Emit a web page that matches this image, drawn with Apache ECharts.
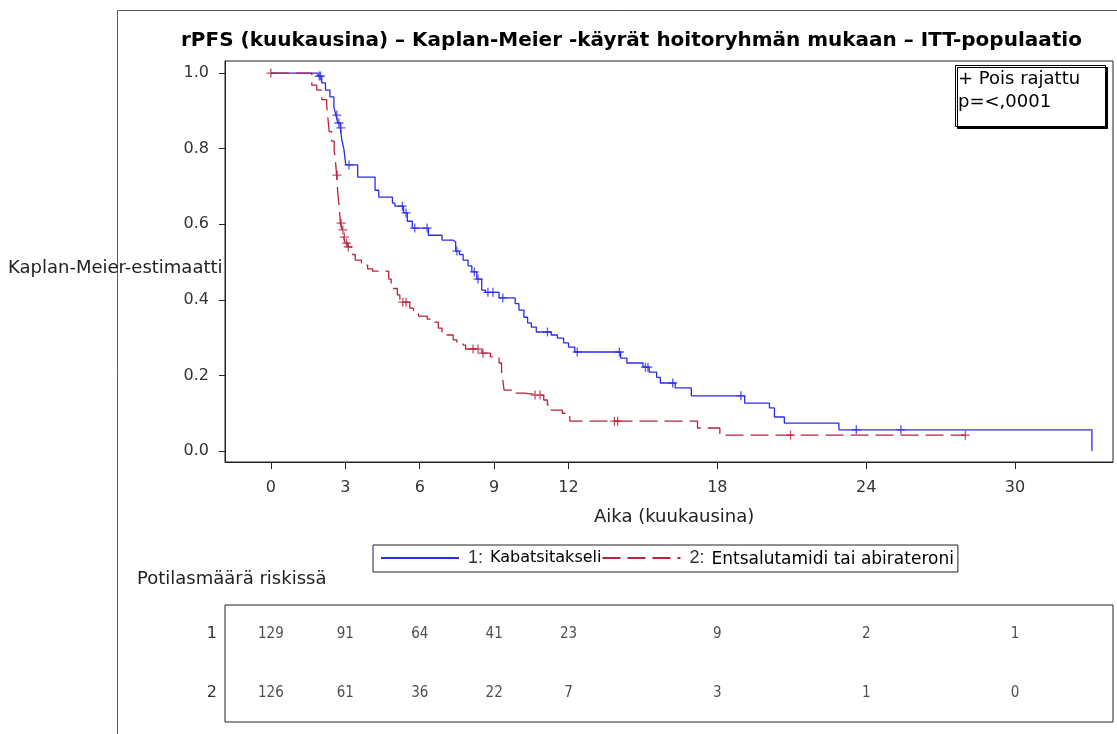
<!DOCTYPE html>
<html>
<head>
<meta charset="utf-8">
<script src="https://cdn.jsdelivr.net/npm/echarts@6/dist/echarts.min.js"></script>
<style>
  html, body { margin: 0; padding: 0; background: #fff; }
  #chart { width: 1117px; height: 734px; }
</style>
</head>
<body>
<div id="chart"></div>
<script>
// Kaplan-Meier steps (time in months, survival after the drop)
const kabTimes = [0, 1.9, 2.05, 2.2, 2.38, 2.54, 2.62, 2.7, 2.8, 2.86, 2.94, 3.02, 3.5, 4.2, 4.35, 4.9, 5.0, 5.35, 5.5, 5.7,
  6.35, 6.9, 7.35, 7.45, 7.6, 7.75, 7.95, 8.1, 8.3, 8.5, 8.65, 9.2, 9.85, 10.0, 10.2, 10.35, 10.5, 10.7, 11.3, 11.55,
  11.8, 12.0, 12.25, 14.1, 14.35, 15.0, 15.25, 15.55, 15.7, 16.3, 16.95, 19.1, 20.1, 20.3, 20.7, 22.9, 33.1]
const kabSurv = [1.0, 0.992, 0.974, 0.955, 0.937, 0.91, 0.889, 0.868, 0.855, 0.823, 0.8, 0.757, 0.725, 0.69, 0.672, 0.656, 0.648, 0.63, 0.608, 0.59,
  0.571, 0.558, 0.553, 0.529, 0.52, 0.505, 0.49, 0.474, 0.455, 0.426, 0.42, 0.405, 0.39, 0.373, 0.354, 0.339, 0.328, 0.315, 0.307, 0.299,
  0.286, 0.275, 0.262, 0.246, 0.233, 0.222, 0.209, 0.195, 0.18, 0.167, 0.146, 0.127, 0.114, 0.09, 0.074, 0.056, 0]
const kabCensored = [1.95, 2.0, 2.66, 2.74, 2.82, 3.15, 5.3, 5.45, 5.8, 6.3, 7.5, 8.2, 8.35, 8.75, 8.95, 9.35,
  11.15, 12.35, 14.05, 15.1, 15.2, 16.2, 18.95, 23.6, 25.4]

const entTimes = [0, 1.65, 1.85, 2.05, 2.25, 2.3, 2.35, 2.45, 2.55, 2.6, 2.65, 2.7, 2.75, 2.8, 2.87, 2.93, 3.0, 3.1, 3.25, 3.4,
  3.65, 3.9, 4.1, 4.75, 4.85, 5.1, 5.2, 5.3, 5.6, 5.75, 5.95, 6.3, 6.6, 6.75, 6.9, 7.35, 7.5, 7.75, 7.85, 8.5,
  8.85, 9.2, 9.3, 9.35, 9.4, 9.7, 10.2, 11.0, 11.15, 11.3, 11.75, 12.05, 17.2, 18.1, 28.0]
const entSurv = [1.0, 0.968, 0.955, 0.93, 0.915, 0.88, 0.845, 0.82, 0.796, 0.77, 0.73, 0.68, 0.65, 0.603, 0.585, 0.566, 0.55, 0.54, 0.52, 0.505,
  0.492, 0.482, 0.476, 0.455, 0.43, 0.413, 0.4, 0.394, 0.378, 0.365, 0.357, 0.349, 0.341, 0.325, 0.307, 0.294, 0.288, 0.28, 0.27, 0.259,
  0.249, 0.233, 0.21, 0.188, 0.161, 0.153, 0.148, 0.135, 0.122, 0.108, 0.1, 0.079, 0.061, 0.042, 0.042]
const entCensored = [0, 2.67, 2.83, 2.9, 2.96, 3.05, 3.12, 5.32, 5.45, 8.15, 8.35, 8.55, 10.65, 10.85, 13.85, 13.98, 20.95, 28.0]

const xTicks = [0, 3, 6, 9, 12, 18, 24, 30]
const yTicks = [0, 0.2, 0.4, 0.6, 0.8, 1.0]

// patients at risk
const riskRows = ['1', '2']
const riskTimes = [0, 3, 6, 9, 12, 18, 24, 30]
const riskArm1 = [129, 91, 64, 41, 23, 9, 2, 1]
const riskArm2 = [126, 61, 36, 22, 7, 3, 1, 0]

const armNames = ['Kabatsitakseli', 'Entsalutamidi tai abirateroni']

const BLUE = '#2b2bf0'
const RED = '#b8233a'
const FONT = "'DejaVu Sans', Verdana, sans-serif"
const NARROW = "'Liberation Sans Narrow', 'Arial Narrow', 'DejaVu Sans Condensed', sans-serif"
const PLUS = 'path://M5,0V10M0,5H10'

function survAt(times, surv, t) {
  let s = surv[0]
  for (let i = 0; i < times.length; i++) {
    if (times[i] <= t) s = surv[i]
  }
  return s
}

function pairs(xs, ys) {
  return xs.map((x, i) => [x, ys[i]])
}

function riskSeries(row, counts) {
  return {
    type: 'scatter', xAxisIndex: 1, yAxisIndex: 1, symbolSize: 1, silent: true,
    itemStyle: { color: 'rgba(0,0,0,0)' },
    label: {
      show: true, position: 'inside', formatter: p => p.value[2],
      fontFamily: NARROW, fontSize: 15, color: '#222'
    },
    data: riskTimes.map((t, i) => [t, row, counts[i]])
  }
}

const chart = echarts.init(document.getElementById('chart'), null, { renderer: 'canvas' })

const option = {
  animation: false,
  title: {
    text: 'rPFS (kuukausina) – Kaplan-Meier -käyrät hoitoryhmän mukaan – ITT-populaatio',
    left: 176,
    top: 26,
    textStyle: {
      fontFamily: FONT,
      fontWeight: 'bold',
      fontSize: 20,
      color: '#000'
    }
  },
  legend: {
    left: 373,
    top: 545,
    padding: [4, 4, 4, 7],
    borderColor: '#222',
    borderWidth: 1,
    itemWidth: 78,
    itemHeight: 10,
    itemGap: 0,
    data: armNames,
    itemStyle: { color: 'rgba(0,0,0,0)', borderWidth: 0 },
    formatter: name => {
      const i = armNames.indexOf(name)
      return `{n|${i + 1}:}{t${i}|${name}}`
    },
    textStyle: {
      rich: {
        n: { fontFamily: "'Liberation Sans', Arial, sans-serif", fontSize: 18, color: '#333', padding: [0, 7, 0, 4] },
        t0: { fontFamily: FONT, fontSize: 16, color: '#000' },
        t1: { fontFamily: FONT, fontSize: 17, color: '#000', padding: [3, 0, 0, 0] }
      }
    }
  },
  grid: [
    { left: 225, top: 61, width: 888, height: 401, show: true, borderColor: '#222', borderWidth: 1 },
    { left: 225, top: 605, width: 888, height: 117, show: true, borderColor: '#222', borderWidth: 1 }
  ],
  xAxis: [
    {
      type: 'value', gridIndex: 0, min: -1.85, max: 33.95,
      axisLine: { show: true, onZero: false, lineStyle: { color: '#222' } },
      axisTick: { show: true, length: 7, customValues: xTicks, lineStyle: { color: '#222' } },
      axisLabel: { customValues: xTicks, fontFamily: FONT, fontSize: 16, color: '#333', margin: 18 },
      splitLine: { show: false }
    },
    {
      type: 'value', gridIndex: 1, min: -1.85, max: 33.95, show: false
    }
  ],
  yAxis: [
    {
      type: 'value', gridIndex: 0, min: -0.029, max: 1.032,
      axisLine: { show: true, onZero: false, lineStyle: { color: '#222' } },
      axisTick: { show: true, length: 6, customValues: yTicks, lineStyle: { color: '#222' } },
      axisLabel: { customValues: yTicks, formatter: v => v.toFixed(1), fontFamily: FONT, fontSize: 16, color: '#333', margin: 16 },
      splitLine: { show: false }
    },
    {
      type: 'category', gridIndex: 1, data: riskRows, inverse: true,
      axisLine: { show: false },
      axisTick: { show: false },
      axisLabel: { fontFamily: FONT, fontSize: 16, color: '#333', margin: 8 }
    }
  ],
  series: [
    {
      name: armNames[0], type: 'line', step: 'end', symbol: 'none',
      data: pairs(kabTimes, kabSurv),
      lineStyle: { color: BLUE, width: 1.3 },
      itemStyle: { color: BLUE }
    },
    {
      name: armNames[1], type: 'line', step: 'end', symbol: 'none',
      data: pairs(entTimes, entSurv),
      lineStyle: { color: RED, width: 1.3, type: [18, 7] },
      itemStyle: { color: RED }
    },
    {
      type: 'scatter', symbol: PLUS, symbolSize: 9, silent: true,
      data: kabCensored.map(t => [t, survAt(kabTimes, kabSurv, t)]),
      itemStyle: { color: 'rgba(0,0,0,0)', borderColor: BLUE, borderWidth: 1.3 }
    },
    {
      type: 'scatter', symbol: PLUS, symbolSize: 9, silent: true,
      data: entCensored.map(t => [t, survAt(entTimes, entSurv, t)]),
      itemStyle: { color: 'rgba(0,0,0,0)', borderColor: RED, borderWidth: 1.3 }
    },
    riskSeries(riskRows[0], riskArm1),
    riskSeries(riskRows[1], riskArm2)
  ],
  graphic: [
    { type: 'line', shape: { x1: 117.5, y1: 10.5, x2: 1117, y2: 10.5 }, style: { stroke: '#555', lineWidth: 1 } },
    { type: 'line', shape: { x1: 117.5, y1: 10.5, x2: 117.5, y2: 734 }, style: { stroke: '#555', lineWidth: 1 } },
    {
      type: 'text', left: 8, top: 259, z: 10,
      style: { text: 'Kaplan-Meier-estimaatti', font: `18px ${FONT}`, fill: '#222' }
    },
    {
      type: 'text', left: 594, top: 508,
      style: { text: 'Aika (kuukausina)', font: `18px ${FONT}`, fill: '#222' }
    },
    {
      type: 'text', left: 137, top: 570,
      style: { text: 'Potilasmäärä riskissä', font: `18px ${FONT}`, fill: '#222' }
    },
    {
      type: 'rect', shape: { x: 955.5, y: 65.5, width: 150, height: 61 }, z: 10,
      style: { fill: '#fff', stroke: '#000', lineWidth: 1, shadowColor: '#000', shadowOffsetX: 2, shadowOffsetY: 2, shadowBlur: 0 }
    },
    {
      type: 'text', left: 958, top: 70, z: 11,
      style: { text: '+ Pois rajattu', font: `18px ${FONT}`, fill: '#000' }
    },
    {
      type: 'text', left: 958, top: 93, z: 11,
      style: { text: 'p=<,0001', font: `18px ${FONT}`, fill: '#000' }
    }
  ]
}

chart.setOption(option)
</script>
</body>
</html>
